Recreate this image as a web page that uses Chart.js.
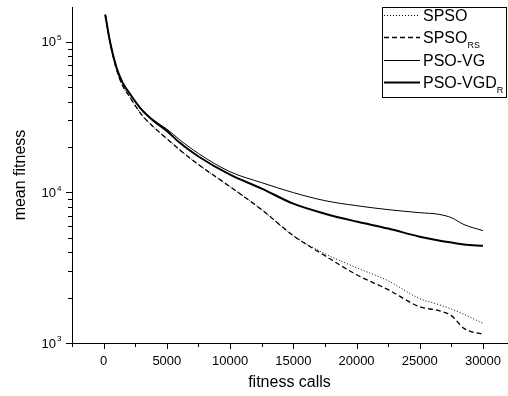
<!DOCTYPE html>
<html>
<head>
<meta charset="utf-8">
<script src="https://cdn.jsdelivr.net/npm/chart.js@4"></script>
<style>
  body { margin: 0; background: #fff; }
</style>
</head>
<body>
<canvas id="chart" width="508" height="396"></canvas>
<script>
// mean fitness vs. fitness calls
const calls   = [130, 500, 1000, 1500, 2000, 3000, 4000, 5000, 6000, 7500, 10000, 12500, 15000, 17500, 20000, 22500, 25000, 26500, 27500, 28500, 30000];
const spso    = [151000, 100000, 66200, 51000, 43800, 32800, 26900, 22700, 19200, 15300, 10900, 7670, 5160, 3920, 3160, 2590, 1970, 1800, 1680, 1550, 1350];
const spsoRS  = [151000, 100000, 66200, 51000, 43800, 32800, 26900, 22700, 19200, 15300, 10900, 7670, 5160, 3800, 2840, 2260, 1740, 1640, 1520, 1250, 1140];
const psoVG   = [151000, 100700, 68200, 53500, 46100, 35800, 30000, 26300, 22400, 18100, 13700, 11600, 9960, 8810, 8160, 7680, 7330, 7150, 6790, 6110, 5570];
const psoVGDR = [151000, 100700, 68200, 53500, 46100, 35400, 29600, 25600, 21400, 17300, 13100, 10600, 8410, 7220, 6400, 5750, 5080, 4790, 4640, 4500, 4420];

const seriesNames = ['SPSO', 'SPSO', 'PSO-VG', 'PSO-VGD'];
const seriesSubs  = ['', 'RS', '', 'R'];

const xTicks  = [-2500, 0, 2500, 5000, 7500, 10000, 12500, 15000, 17500, 20000, 22500, 25000, 27500, 30000];
const xLabels = [0, 5000, 10000, 15000, 20000, 25000, 30000];
const yDecades = [1000, 10000, 100000];
const yExponents = ['3', '4', '5'];

const FONT = '"Liberation Sans", Arial, sans-serif';

const points = (ys) => calls.map((c, i) => ({ x: c, y: ys[i] }));

// small outward ticks, longer on the labelled ones, plus tick labels
const axisTicks = {
  id: 'axisTicks',
  afterDraw(chart) {
    const { ctx, chartArea, scales: { x, y } } = chart;
    ctx.save();
    ctx.strokeStyle = '#000';
    ctx.lineWidth = 1;
    ctx.beginPath();
    xTicks.forEach(v => {
      const px = Math.round(x.getPixelForValue(v)) + 0.5;
      const len = v % 5000 === 0 ? 6 : 4;
      ctx.moveTo(px, chartArea.bottom);
      ctx.lineTo(px, chartArea.bottom + len);
    });
    yDecades.forEach(d => {
      for (let m = 1; m <= 9; m++) {
        const v = d * m;
        if (v > y.max) break;
        const py = Math.round(y.getPixelForValue(v)) + 0.5;
        const len = m === 1 ? 6 : 4;
        ctx.moveTo(chartArea.left, py);
        ctx.lineTo(chartArea.left - len, py);
      }
    });
    ctx.stroke();

    ctx.fillStyle = '#000';
    ctx.font = '13px ' + FONT;
    ctx.textAlign = 'center';
    ctx.textBaseline = 'middle';
    xLabels.forEach(v => {
      ctx.fillText(String(v), x.getPixelForValue(v), chartArea.bottom + 18);
    });

    // 10^n labels
    yDecades.forEach((d, i) => {
      const py = y.getPixelForValue(d);
      ctx.font = '13px ' + FONT;
      ctx.textAlign = 'right';
      ctx.textBaseline = 'middle';
      ctx.fillText('10', 56, py + 1);
      ctx.font = '8px ' + FONT;
      ctx.textAlign = 'left';
      ctx.fillText(yExponents[i], 57, py - 4);
    });
    ctx.restore();
  }
};

// boxed legend with subscripts
const boxLegend = {
  id: 'boxLegend',
  afterDraw(chart) {
    const ctx = chart.ctx;
    ctx.save();
    ctx.strokeStyle = '#000';
    ctx.lineWidth = 1;
    ctx.strokeRect(382.5, 7.5, 124, 90);
    chart.data.datasets.forEach((ds, i) => {
      const base = 21 + i * 22.3;
      const ly = Math.round(base - 6) + 0.5;
      ctx.beginPath();
      ctx.setLineDash(ds.borderDash || []);
      ctx.lineWidth = ds.borderWidth;
      ctx.moveTo(384, ly);
      ctx.lineTo(420, ly);
      ctx.stroke();
      ctx.setLineDash([]);
      ctx.fillStyle = '#000';
      ctx.textBaseline = 'alphabetic';
      ctx.textAlign = 'left';
      ctx.font = '16px ' + FONT;
      ctx.fillText(seriesNames[i], 423, base);
      if (seriesSubs[i]) {
        const w = ctx.measureText(seriesNames[i]).width;
        ctx.font = '9px ' + FONT;
        ctx.fillText(seriesSubs[i], 423 + w, base + 5);
      }
    });
    ctx.restore();
  }
};

new Chart(document.getElementById('chart'), {
  type: 'line',
  data: {
    datasets: [
      { label: 'SPSO', data: points(spso), borderColor: '#000', borderWidth: 1, borderDash: [1, 2] },
      { label: 'SPSO_RS', data: points(spsoRS), borderColor: '#000', borderWidth: 1.3, borderDash: [5, 3] },
      { label: 'PSO-VG', data: points(psoVG), borderColor: '#000', borderWidth: 1 },
      { label: 'PSO-VGD_R', data: points(psoVGDR), borderColor: '#000', borderWidth: 2 },
    ]
  },
  options: {
    responsive: false,
    animation: false,
    layout: { padding: { top: 7, right: 1 } },
    elements: {
      point: { radius: 0 },
      line: { cubicInterpolationMode: 'monotone', fill: false }
    },
    plugins: {
      legend: { display: false },
      tooltip: { enabled: false }
    },
    scales: {
      x: {
        type: 'linear',
        min: -2500,
        max: 31900,
        afterFit: s => { s.height = 53; },
        grid: { display: false, drawTicks: false },
        border: { display: true, color: '#000', width: 1 },
        ticks: { display: false },
        title: {
          display: true,
          text: 'fitness calls',
          color: '#000',
          font: { family: FONT, size: 16 },
          padding: { top: 0, bottom: 4 }
        }
      },
      y: {
        type: 'logarithmic',
        min: 1000,
        max: 170000,
        afterFit: s => { s.width = 72; },
        grid: { display: false, drawTicks: false },
        border: { display: true, color: '#000', width: 1 },
        ticks: { display: false },
        title: {
          display: true,
          text: 'mean fitness',
          color: '#000',
          font: { family: FONT, size: 16 },
          padding: { top: 11, bottom: 0 }
        }
      }
    }
  },
  plugins: [axisTicks, boxLegend]
});
</script>
</body>
</html>
